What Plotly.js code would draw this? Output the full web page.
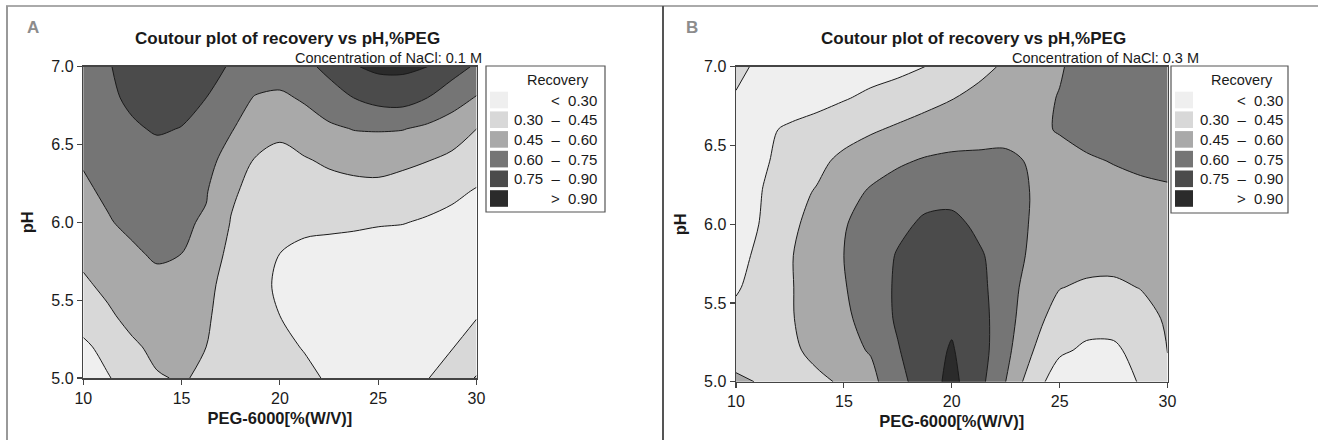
<!DOCTYPE html>
<html><head><meta charset="utf-8">
<script src="https://cdn.plot.ly/plotly-3.0.1.min.js"></script>
<style>html,body{margin:0;padding:0;background:#fff;} #chart{width:1318px;height:440px;}</style>
</head><body><div id="chart"></div>
<script>
// ---- data ----
const pegPercent = [10, 11.25, 12.5, 13.75, 15, 16.25, 17.5, 18.75, 20, 21.25, 22.5, 23.75, 25, 26.25, 27.5, 28.75, 30];
const phValues = [5.0, 5.2, 5.4, 5.6, 5.8, 6.0, 6.2, 6.4, 6.6, 6.8, 7.0];

// Panel A: NaCl 0.1 M (rows = pH, cols = PEG %)
const recoveryNaCl01 = [
  [0.20, 0.29, 0.37, 0.44, 0.46, 0.43, 0.38, 0.36, 0.34, 0.32, 0.29, 0.27, 0.26, 0.27, 0.295, 0.36, 0.46],
  [0.27, 0.35, 0.43, 0.48, 0.48, 0.45, 0.38, 0.34, 0.32, 0.295, 0.27, 0.25, 0.245, 0.25, 0.27, 0.295, 0.34],
  [0.37, 0.43, 0.49, 0.52, 0.51, 0.47, 0.38, 0.33, 0.30, 0.27, 0.25, 0.24, 0.235, 0.235, 0.245, 0.265, 0.295],
  [0.43, 0.48, 0.53, 0.56, 0.55, 0.49, 0.39, 0.33, 0.285, 0.25, 0.24, 0.23, 0.22, 0.215, 0.215, 0.22, 0.23],
  [0.48, 0.53, 0.58, 0.62, 0.60, 0.52, 0.42, 0.35, 0.30, 0.27, 0.26, 0.25, 0.24, 0.23, 0.22, 0.22, 0.22],
  [0.54, 0.59, 0.63, 0.64, 0.62, 0.585, 0.445, 0.39, 0.35, 0.33, 0.325, 0.32, 0.31, 0.305, 0.285, 0.26, 0.25],
  [0.58, 0.62, 0.65, 0.66, 0.64, 0.61, 0.47, 0.41, 0.38, 0.39, 0.40, 0.41, 0.41, 0.39, 0.36, 0.33, 0.29],
  [0.61, 0.64, 0.67, 0.69, 0.67, 0.64, 0.55, 0.44, 0.41, 0.44, 0.47, 0.49, 0.50, 0.48, 0.455, 0.42, 0.37],
  [0.65, 0.69, 0.73, 0.765, 0.745, 0.69, 0.61, 0.53, 0.48, 0.52, 0.57, 0.605, 0.61, 0.605, 0.57, 0.52, 0.45],
  [0.67, 0.72, 0.78, 0.82, 0.80, 0.75, 0.67, 0.59, 0.57, 0.62, 0.70, 0.75, 0.80, 0.81, 0.75, 0.67, 0.59],
  [0.70, 0.74, 0.80, 0.84, 0.83, 0.79, 0.74, 0.70, 0.69, 0.72, 0.78, 0.89, 0.93, 0.93, 0.90, 0.81, 0.73]
];

// Panel B: NaCl 0.3 M
const recoveryNaCl03 = [
  [0.47, 0.44, 0.42, 0.42, 0.47, 0.56, 0.70, 0.83, 0.94, 0.80, 0.60, 0.36, 0.23, 0.22, 0.24, 0.31, 0.40],
  [0.40, 0.40, 0.42, 0.49, 0.56, 0.61, 0.74, 0.85, 0.91, 0.82, 0.64, 0.455, 0.32, 0.28, 0.28, 0.34, 0.455],
  [0.35, 0.39, 0.44, 0.50, 0.57, 0.66, 0.77, 0.85, 0.88, 0.81, 0.66, 0.50, 0.39, 0.345, 0.345, 0.39, 0.47],
  [0.28, 0.38, 0.44, 0.51, 0.59, 0.68, 0.77, 0.83, 0.85, 0.79, 0.67, 0.53, 0.455, 0.43, 0.425, 0.455, 0.49],
  [0.23, 0.36, 0.44, 0.52, 0.60, 0.68, 0.76, 0.81, 0.82, 0.77, 0.68, 0.57, 0.52, 0.50, 0.50, 0.51, 0.53],
  [0.19, 0.32, 0.42, 0.50, 0.59, 0.66, 0.72, 0.77, 0.79, 0.72, 0.68, 0.585, 0.55, 0.54, 0.54, 0.55, 0.56],
  [0.17, 0.305, 0.41, 0.46, 0.54, 0.62, 0.67, 0.71, 0.70, 0.70, 0.68, 0.59, 0.555, 0.55, 0.56, 0.57, 0.58],
  [0.19, 0.28, 0.36, 0.42, 0.48, 0.53, 0.58, 0.615, 0.63, 0.625, 0.62, 0.59, 0.575, 0.585, 0.605, 0.625, 0.64],
  [0.22, 0.275, 0.32, 0.36, 0.40, 0.435, 0.47, 0.50, 0.53, 0.555, 0.57, 0.585, 0.605, 0.64, 0.665, 0.68, 0.69],
  [0.29, 0.25, 0.23, 0.25, 0.29, 0.33, 0.37, 0.41, 0.445, 0.49, 0.53, 0.57, 0.605, 0.65, 0.68, 0.69, 0.70],
  [0.33, 0.27, 0.24, 0.23, 0.23, 0.24, 0.26, 0.30, 0.35, 0.41, 0.47, 0.53, 0.59, 0.645, 0.67, 0.68, 0.68]
];

const levelStart = 0.30, levelEnd = 0.90, levelStep = 0.15;
const bandLabels = ['<\u00a0\u00a00.30', '0.30\u00a0\u00a0\u2013\u00a0\u00a00.45', '0.45\u00a0\u00a0\u2013\u00a0\u00a00.60',
                    '0.60\u00a0\u00a0\u2013\u00a0\u00a00.75', '0.75\u00a0\u00a0\u2013\u00a0\u00a00.90', '>\u00a0\u00a00.90'];
const bandColors = ['#efefef', '#d8d8d8', '#a9a9a9', '#757575', '#4b4b4b', '#2b2b2b'];
const xTickVals = [10, 15, 20, 25, 30];
const yTickVals = [5.0, 5.5, 6.0, 6.5, 7.0];
const panelLetters = ['A', 'B'];
const plotTitle = 'Coutour plot of recovery vs pH,%PEG';
const subtitles = ['Concentration of NaCl: 0.1 M', 'Concentration of NaCl: 0.3 M'];
const xTitle = 'PEG-6000[%(W/V)]';
const yTitle = 'pH';
const legendTitle = 'Recovery';

// ---- layout helpers ----
const W = 1318, H = 440;
const FONT = '"Liberation Sans", Arial, Helvetica, sans-serif';
const INK = '#1a1a1a';
const px = v => v / W;
const py = v => 1 - v / H;

// stepped colorscale: band midpoints map to 0, .2, .4, .6, .8, 1
const colorscale = [];
bandColors.forEach((c, i) => {
  const lo = i === 0 ? 0 : (i * 0.2 - 0.1);
  const hi = i === bandColors.length - 1 ? 1 : (i * 0.2 + 0.1);
  colorscale.push([lo, c], [hi, c]);
});

const panels = [
  {z: recoveryNaCl01, xa: 'x', ya: 'y', xd: [83.3, 476.5], yd: [66.7, 378], title: 287.5, sub: 484, letter: 33,
   leg: {l: 486, r: 605, t: 66, b: 212, sw: 490, lab: 599, tc: 558}, ytitleStand: 13},
  {z: recoveryNaCl03, xa: 'x2', ya: 'y2', xd: [736, 1167.5], yd: [66.7, 381.7], title: 973, sub: 1201, letter: 692,
   leg: {l: 1171, r: 1288, t: 66, b: 213, sw: 1175, lab: 1285, tc: 1242}, ytitleStand: 13}
];

const traces = [];
const layout = {
  width: W, height: H, autosize: false,
  margin: {l: 0, r: 0, t: 0, b: 0, pad: 0},
  paper_bgcolor: '#fff', plot_bgcolor: '#fff',
  font: {family: FONT, color: INK},
  showlegend: false,
  annotations: [], shapes: []
};

panels.forEach((p, k) => {
  traces.push({
    type: 'contour', x: pegPercent, y: phValues, z: p.z,
    xaxis: p.xa, yaxis: p.ya,
    autocontour: false,
    contours: {start: levelStart, end: levelEnd, size: levelStep, coloring: 'fill', showlines: true},
    line: {color: '#1a1a1a', width: 1, smoothing: 0.9},
    colorscale: colorscale, showscale: false, hoverinfo: 'skip'
  });
  const xKey = k === 0 ? 'xaxis' : 'xaxis2';
  const yKey = k === 0 ? 'yaxis' : 'yaxis2';
  const common = {
    ticks: 'outside', ticklen: 5, tickwidth: 1.2, tickcolor: '#444',
    showline: true, linecolor: '#444', linewidth: 1.5, mirror: true,
    showgrid: false, zeroline: false, fixedrange: true,
    tickfont: {family: FONT, size: 16, color: INK}
  };
  layout[xKey] = Object.assign({}, common, {
    domain: [px(p.xd[0]), px(p.xd[1])], range: [10, 30], tickvals: xTickVals,
    anchor: p.ya,
    title: {text: '<b>' + xTitle + '</b>', font: {family: FONT, size: 16.5, color: INK}, standoff: 6}
  });
  layout[yKey] = Object.assign({}, common, {
    domain: [py(p.yd[1]), py(p.yd[0])], range: [5, 7], tickvals: yTickVals, tickformat: '.1f',
    anchor: p.xa,
    title: {text: '<b>' + yTitle + '</b>', font: {family: FONT, size: 16.5, color: INK}, standoff: p.ytitleStand}
  });

  // panel letter, title, subtitle
  layout.annotations.push(
    {xref: 'paper', yref: 'paper', x: px(p.letter), y: py(28), xanchor: 'center', yanchor: 'middle', showarrow: false,
     text: '<b>' + panelLetters[k] + '</b>', font: {family: FONT, size: 17, color: '#8c8c8c'}},
    {xref: 'paper', yref: 'paper', x: px(p.title), y: py(38), xanchor: 'center', yanchor: 'middle', showarrow: false,
     text: '<b>' + plotTitle + '</b>', font: {family: FONT, size: 17, color: INK}},
    {xref: 'paper', yref: 'paper', x: px(p.sub), y: py(58), xanchor: 'right', yanchor: 'middle', showarrow: false,
     text: subtitles[k], font: {family: FONT, size: 14.5, color: INK}}
  );

  // legend box
  const L = p.leg;
  layout.shapes.push({type: 'rect', xref: 'paper', yref: 'paper', x0: px(L.l), x1: px(L.r), y0: py(L.b), y1: py(L.t),
    line: {color: '#555', width: 1.2}, fillcolor: '#fff', layer: 'above'});
  layout.annotations.push({xref: 'paper', yref: 'paper', x: px(L.tc), y: py(80), xanchor: 'center', yanchor: 'middle',
    showarrow: false, text: legendTitle, font: {family: FONT, size: 14.5, color: INK}});
  bandLabels.forEach((lab, i) => {
    const yc = 100 + i * 19.7;
    layout.shapes.push({type: 'rect', xref: 'paper', yref: 'paper', x0: px(L.sw), x1: px(L.sw + 18),
      y0: py(yc + 8.3), y1: py(yc - 8.3), line: {width: 0}, fillcolor: bandColors[i], layer: 'above'});
    layout.annotations.push({xref: 'paper', yref: 'paper', x: px(L.lab), y: py(yc), xanchor: 'right', yanchor: 'middle',
      showarrow: false, text: lab, font: {family: FONT, size: 15, color: INK}});
  });
});

// panel frame lines
layout.shapes.push(
  {type: 'line', xref: 'paper', yref: 'paper', x0: px(6), x1: px(1318), y0: py(6), y1: py(6), line: {color: '#aaa', width: 2}},
  {type: 'line', xref: 'paper', yref: 'paper', x0: px(7), x1: px(7), y0: py(6), y1: py(440), line: {color: '#999', width: 2}},
  {type: 'line', xref: 'paper', yref: 'paper', x0: px(663), x1: px(663), y0: py(6), y1: py(440), line: {color: '#555', width: 2}}
);

Plotly.newPlot('chart', traces, layout, {displayModeBar: false, staticPlot: true});
</script>
</body></html>
